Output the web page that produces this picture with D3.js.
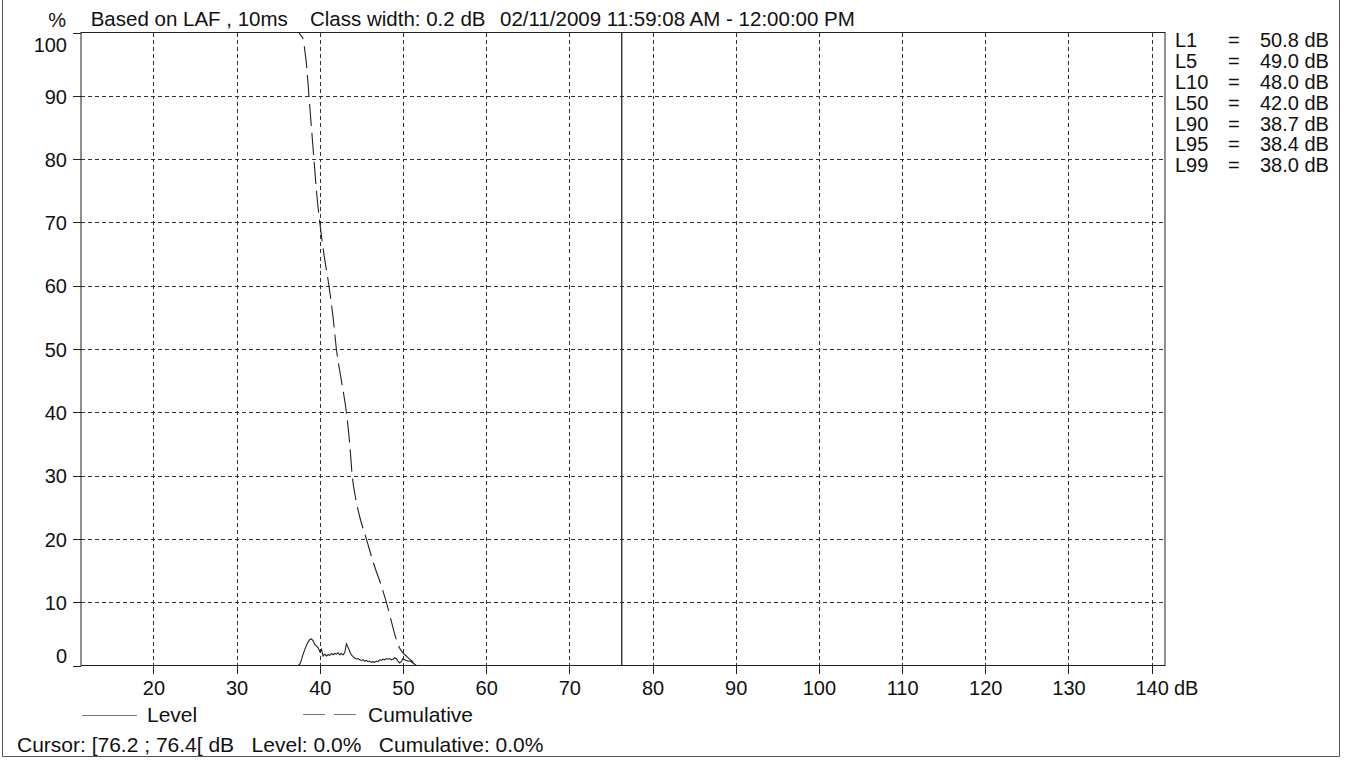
<!DOCTYPE html>
<html>
<head>
<meta charset="utf-8">
<script src="https://cdn.jsdelivr.net/npm/d3@7/dist/d3.min.js"></script>
<style type="text/css">
    body { margin: 0; background: #fff; }
    svg text { font-family: "Liberation Sans", Arial, sans-serif; fill: #111; }
    .axis text { font-size: 20px; }
    .axis line { stroke: #222; shape-rendering: crispEdges; }
    .grid line { stroke: #333; stroke-dasharray: 4,3; shape-rendering: crispEdges; }
</style>
</head>
<body>
<script>

// level distribution, class width 0.2 dB (percent per class)
var levelDb = [37.4, 37.6, 37.8, 38.0, 38.2, 38.4, 38.6, 38.8, 39.0, 39.2, 39.4, 39.6, 39.8, 40.0,
    40.2, 40.4, 40.6, 40.8, 41.0, 41.2, 41.4, 41.6, 41.8, 42.0, 42.2, 42.4, 42.6, 42.8, 43.0,
    43.2, 43.4, 43.6, 43.8, 44.0, 44.2, 44.4, 44.6, 44.8, 45.0, 45.2, 45.4, 45.6, 45.8, 46.0,
    46.2, 46.4, 46.6, 46.8, 47.0, 47.2, 47.4, 47.6, 47.8, 48.0, 48.2, 48.4, 48.6, 48.8, 49.0,
    49.2, 49.4, 49.6, 49.8, 50.0, 50.2, 50.4, 50.6, 50.8, 51.0, 51.2, 51.4, 51.6, 52.0];
var levelPct = [0, 0.2, 0.9, 1.8, 2.5, 3.2, 3.7, 4.1, 4.2, 3.9, 3.3, 3.1, 2.8, 2.2,
    2.6, 1.5, 1.8, 1.5, 1.7, 1.6, 1.9, 1.7, 1.9, 1.8, 2.0, 1.7, 1.9, 1.7, 2.0,
    3.4, 2.9, 2.2, 1.7, 1.4, 1.2, 1.0, 1.1, 0.9, 0.8, 0.9, 0.7, 0.8, 0.6, 0.7,
    0.5, 0.6, 0.5, 0.7, 0.6, 0.9, 0.8, 1.0, 0.9, 1.1, 1.0, 1.1, 0.9, 1.0, 1.2,
    1.1, 0.7, 0.4, 0.6, 1.1, 0.9, 0.8, 0.7, 0.7, 0.6, 0.4, 0.2, 0.0, 0];

// cumulative distribution (percent of time above level)
var cumDb = [11.4, 37.4, 37.6, 37.8, 38.0, 38.2, 38.4, 38.7, 39.0, 39.3, 39.6, 40.0, 40.5, 41.1,
    41.6, 42.0, 42.6, 43.2, 43.6, 43.9, 44.3, 44.8, 45.6, 46.5, 47.3, 48.0, 48.5, 49.0, 49.5,
    50.0, 50.4, 50.8, 51.3, 51.8, 52.2];
var cumPct = [100, 100, 99.8, 99.4, 99, 97.2, 95, 90, 85, 80, 75, 70, 65, 60,
    55, 50, 45, 40, 35, 30, 26.5, 23.5, 20, 16, 13, 10, 7.5, 5, 3,
    2, 1.5, 1, 0.5, 0.1, 0];

// percentile table
var statNames = ["L1", "L5", "L10", "L50", "L90", "L95", "L99"];
var statValues = ["50.8", "49.0", "48.0", "42.0", "38.7", "38.4", "38.0"];

var xTicks = [20, 30, 40, 50, 60, 70, 80, 90, 100, 110, 120, 130, 140];
var yTicks = [0, 10, 20, 30, 40, 50, 60, 70, 80, 90, 100];

var cursorDb = 76.3;
var titleParts = ["Based on LAF , 10ms", "Class width: 0.2 dB", "02/11/2009 11:59:08 AM - 12:00:00 PM"];
var cursorText = "Cursor: [76.2 ; 76.4[ dB   Level: 0.0%   Cumulative: 0.0%";

// plot box (note: "top" is reserved on window)
var plotLeft = 81, plotRight = 1165, plotTop = 32.5, plotBottom = 665.5;

var svg = d3.select("body").append("svg")
    .attr("width", 1348)
    .attr("height", 760);

var xScale = d3.scaleLinear().domain([11.3, 141.6]).range([plotLeft, plotRight]);
var yScale = d3.scaleLinear().domain([0, 100]).range([plotBottom, plotTop]);

// outer frame
svg.append("path")
    .attr("d", "M2.5,-2 V756.5 H1339.5 V-2")
    .attr("fill", "none")
    .attr("stroke", "#555");

// dashed grid
var grid = svg.append("g").attr("class", "grid");
grid.selectAll("line.v")
    .data(xTicks).enter().append("line")
    .attr("class", "v")
    .attr("x1", function(d) { return Math.round(xScale(d)) + 0.5; })
    .attr("x2", function(d) { return Math.round(xScale(d)) + 0.5; })
    .attr("y1", plotTop).attr("y2", plotBottom);
grid.selectAll("line.h")
    .data(yTicks.slice(1, -1)).enter().append("line")
    .attr("class", "h")
    .attr("x1", plotLeft).attr("x2", plotRight)
    .attr("y1", function(d) { return Math.round(yScale(d)) + 0.5; })
    .attr("y2", function(d) { return Math.round(yScale(d)) + 0.5; });

// axes
var yAxis = d3.axisLeft(yScale).tickValues(yTicks).tickSize(8).tickPadding(6);
var gy = svg.append("g")
    .attr("class", "axis")
    .attr("transform", "translate(" + plotLeft + ",0)")
    .call(yAxis);
gy.select(".domain").remove();
gy.selectAll("text")
    .attr("dy", function(d) { return d == 100 ? "0.95em" : (d == 0 ? "-0.15em" : "0.36em"); });

var xAxis = d3.axisBottom(xScale).tickValues(xTicks).tickSize(8).tickPadding(7);
var gx = svg.append("g")
    .attr("class", "axis")
    .attr("transform", "translate(0," + plotBottom + ")")
    .call(xAxis);
gx.select(".domain").remove();

// plot border
svg.append("rect")
    .attr("x", plotLeft).attr("y", plotTop)
    .attr("width", plotRight - plotLeft).attr("height", plotBottom - plotTop)
    .attr("fill", "none")
    .attr("stroke", "#222");

// cursor line
svg.append("line")
    .attr("x1", xScale(cursorDb)).attr("x2", xScale(cursorDb))
    .attr("y1", plotTop).attr("y2", plotBottom)
    .attr("stroke", "#222")
    .attr("stroke-width", 1.3);

// curves
var levelLine = d3.line()
    .x(function(d, i) { return xScale(levelDb[i]); })
    .y(function(d, i) { return yScale(levelPct[i]); });
svg.append("path")
    .attr("d", levelLine(levelDb))
    .attr("fill", "none")
    .attr("stroke", "#222")
    .attr("stroke-width", 1.1);

var cumLine = d3.line()
    .x(function(d, i) { return xScale(cumDb[i]); })
    .y(function(d, i) { return yScale(cumPct[i]); })
    .curve(d3.curveMonotoneX);
svg.append("path")
    .attr("d", cumLine(cumDb))
    .attr("fill", "none")
    .attr("stroke", "#222")
    .attr("stroke-width", 1.1)
    .attr("stroke-dasharray", "22,7");

// title
svg.append("text").attr("x", 66).attr("y", 27)
    .attr("text-anchor", "end").style("font-size", "20px").text("%");
var titleX = [90.7, 310, 500];
titleParts.forEach(function(t, i) {
    svg.append("text").attr("x", titleX[i]).attr("y", 26)
        .style("font-size", "20.5px").text(t);
});

// unit on x axis
svg.append("text").attr("x", 1174).attr("y", 695)
    .style("font-size", "20px").text("dB");

// percentile table
var stats = svg.selectAll("g.stat")
    .data(statNames).enter().append("g")
    .attr("class", "stat")
    .attr("transform", function(d, i) { return "translate(0," + (47.3 + i * 20.8) + ")"; });
stats.append("text").attr("x", 1175).style("font-size", "20px").text(function(d) { return d; });
stats.append("text").attr("x", 1228).style("font-size", "20px").text("=");
stats.append("text").attr("x", 1260).style("font-size", "20px")
    .text(function(d, i) { return statValues[i] + " dB"; });

// legend
svg.append("line")
    .attr("x1", 82).attr("x2", 137).attr("y1", 715.5).attr("y2", 715.5)
    .attr("stroke", "#777");
svg.append("text").attr("x", 147).attr("y", 722)
    .style("font-size", "21px").text("Level");
svg.append("line")
    .attr("x1", 303).attr("x2", 356).attr("y1", 714.5).attr("y2", 714.5)
    .attr("stroke", "#777")
    .attr("stroke-dasharray", "22,9");
svg.append("text").attr("x", 368).attr("y", 722)
    .style("font-size", "21px").text("Cumulative");

// cursor readout
svg.append("text").attr("x", 17).attr("y", 752)
    .attr("xml:space", "preserve")
    .style("white-space", "pre")
    .style("font-size", "21px")
    .text(cursorText);

</script>
</body>
</html>
